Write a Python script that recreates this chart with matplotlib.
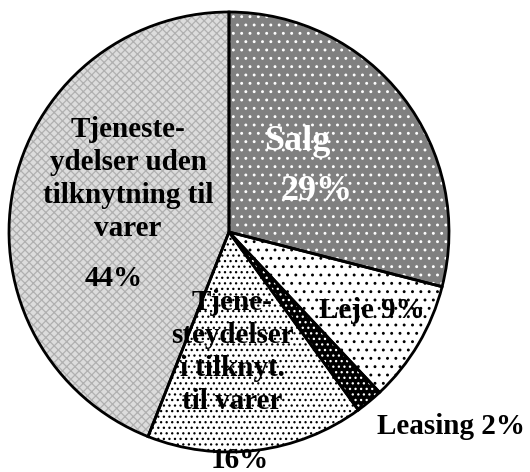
import matplotlib
matplotlib.use("Agg")
import matplotlib.pyplot as plt

labels = ["Salg", "Leje", "Leasing", "Tjenesteydelser i tilknyt. til varer",
          "Tjenesteydelser uden tilknytning til varer"]
values = [29, 9, 2, 16, 44]

face_colors = ["#808080", "#ffffff", "#000000", "#ffffff", "#dcdcdc"]
hatch_colors = ["#ffffff", "#000000", "#ffffff", "#000000", "#b0b0b0"]
hatches = ["..", "..", "...", "...", "xxxx"]

plt.rcParams["hatch.linewidth"] = 0.9
plt.rcParams["font.family"] = ["Liberation Serif", "DejaVu Serif"]

W, H = 530, 472
fig = plt.figure(figsize=(W / 100, H / 100), dpi=100)
ax = fig.add_axes([0, 0, 1, 1])

cx, cy, r = 229, H - 232, 220

wedges, _ = ax.pie(values, startangle=90, counterclock=False,
                   center=(cx, cy), radius=r,
                   wedgeprops=dict(linewidth=0))
for w, fc, hc, h in zip(wedges, face_colors, hatch_colors, hatches):
    w.set_facecolor(fc)
    w.set_edgecolor(hc)
    w.set_hatch(h)
    w.set_linewidth(0)

outline, _ = ax.pie(values, startangle=90, counterclock=False,
                    center=(cx, cy), radius=r,
                    wedgeprops=dict(facecolor="none", edgecolor="black",
                                    linewidth=2.0))

ax.set_xlim(0, W)
ax.set_ylim(0, H)
ax.set_aspect("equal")
ax.axis("off")

def t(x, y, s, size=21, color="black", **kw):
    ax.text(x, H - y, s, fontsize=size, fontweight="bold", color=color,
            ha="center", va="center", linespacing=1.28, **kw)

t(297, 142, "Salg", size=26, color="white")
t(317, 192, "29%", size=26, color="white")
t(372, 310, "Leje 9%")
t(451, 427, "Leasing 2%")
t(128, 179, "Tjeneste-\nydelser uden\ntilknytning til\nvarer")
t(114, 278, "44%")
t(232, 352, "Tjene-\nsteydelser\ni tilknyt.\ntil varer")
t(240, 460, "16%")

fig.savefig("out.png", dpi=100)
